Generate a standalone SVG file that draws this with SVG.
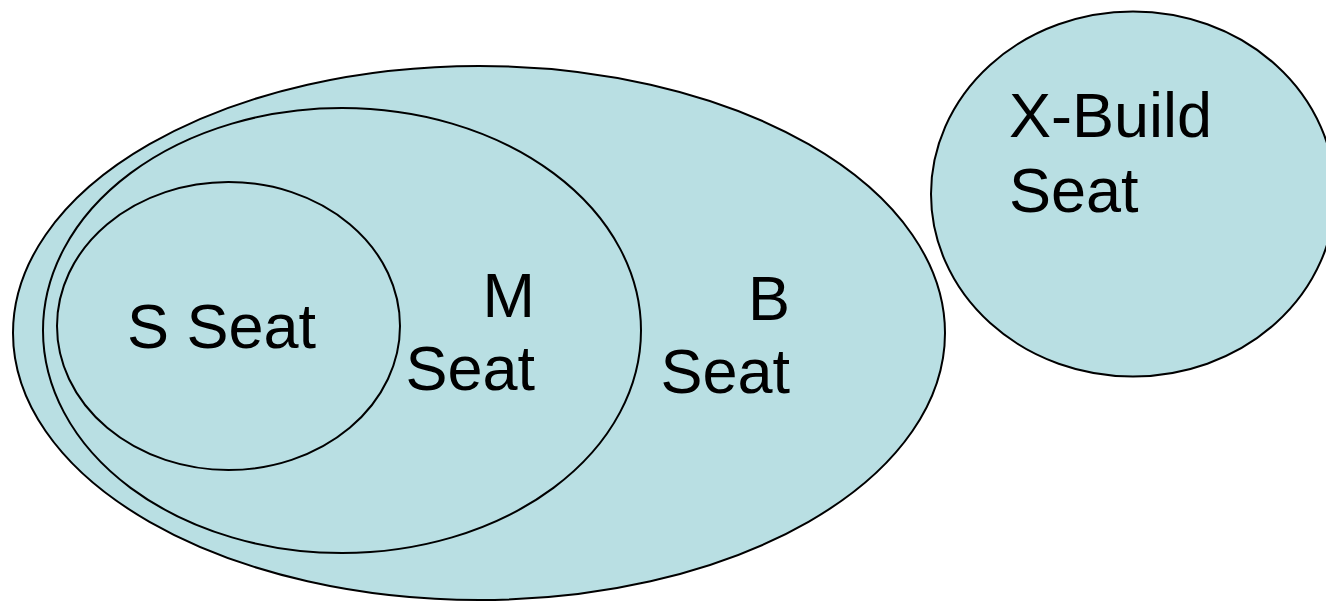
<svg xmlns="http://www.w3.org/2000/svg" width="1326" height="602" viewBox="0 0 1326 602">
  <style>
    .set { fill: #b9dfe3; stroke: #000; stroke-width: 2; }
    .lbl { font-family: "Liberation Sans", Arial, sans-serif; font-size: 63px; fill: #000; }
    .r { text-anchor: end; }
  </style>
  <rect width="1326" height="602" fill="#fff"/>
  <g id="b-seat">
    <ellipse class="set" cx="479" cy="333" rx="466" ry="267"/>
    <text class="lbl r" x="790" y="320">B</text>
    <text class="lbl r" x="790" y="393">Seat</text>
  </g>
  <g id="m-seat">
    <ellipse class="set" cx="342" cy="330.5" rx="299" ry="222.5"/>
    <text class="lbl r" x="535" y="317">M</text>
    <text class="lbl r" x="535" y="390">Seat</text>
  </g>
  <g id="s-seat">
    <ellipse class="set" cx="228.5" cy="326" rx="171.5" ry="144"/>
    <text class="lbl" x="127" y="348">S Seat</text>
  </g>
  <g id="x-build-seat">
    <ellipse class="set" cx="1133" cy="194" rx="202" ry="182.5"/>
    <text class="lbl" x="1009" y="137">X-Build</text>
    <text class="lbl" x="1009" y="212">Seat</text>
  </g>
  <g id="connectors"/>
</svg>
